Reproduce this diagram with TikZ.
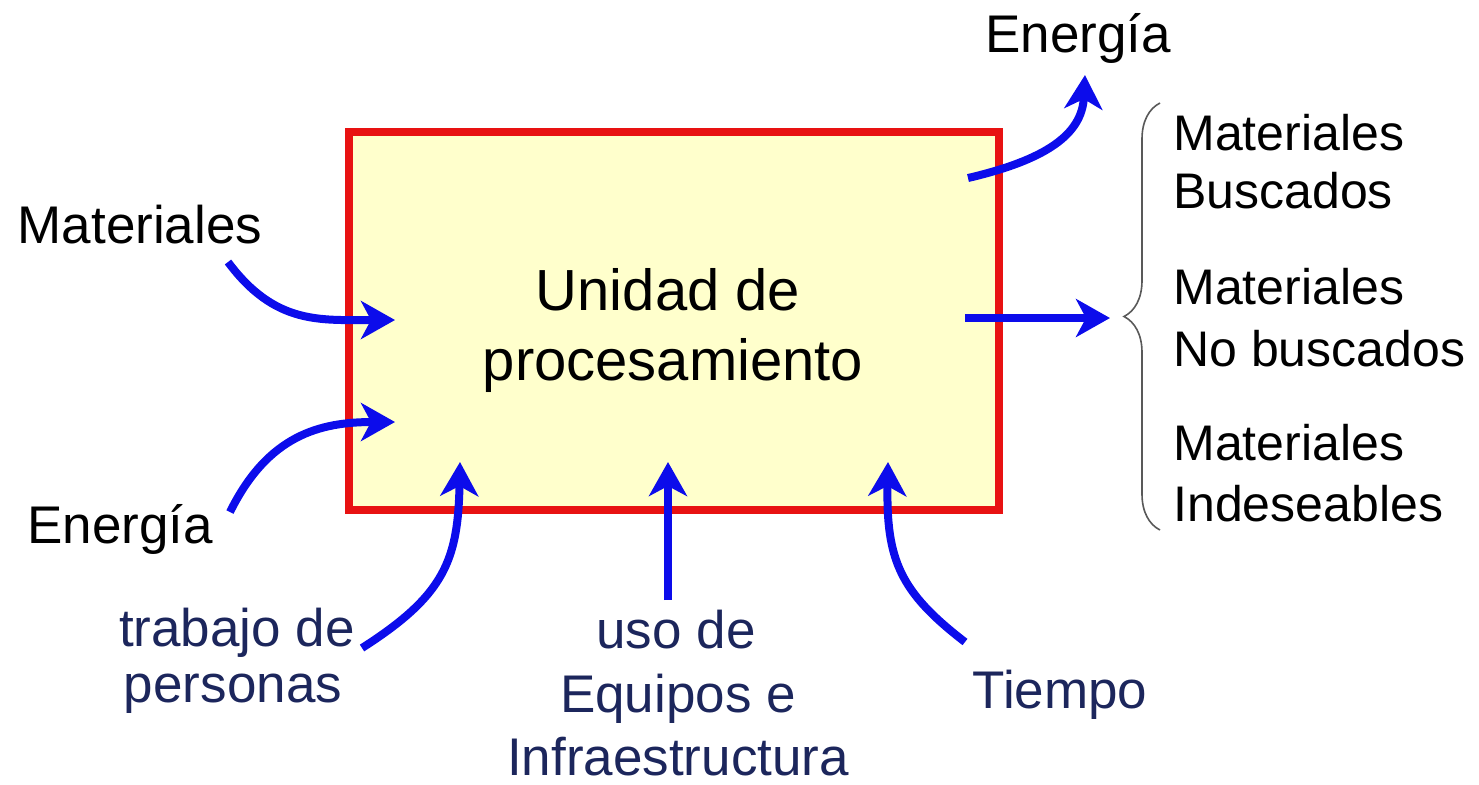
\documentclass[tikz,border=0pt]{standalone}
\usepackage{fontspec}
\setmainfont{Liberation Sans}
\usetikzlibrary{arrows.meta}
\usetikzlibrary{decorations.pathreplacing}

\definecolor{rojocaja}{RGB}{232,18,18}
\definecolor{fondocaja}{RGB}{255,255,204}
\definecolor{azulflecha}{RGB}{12,12,235}
\definecolor{azultexto}{RGB}{28,38,92}

\begin{document}
\begin{tikzpicture}[x=0.5pt,y=-0.5pt,
    flecha/.style={draw=azulflecha,line width=4pt,
        -{Stealth[length=17pt,width=19pt,inset=5pt]}},
    grande/.style={font=\fontsize{29}{35}\selectfont,inner sep=0pt},
    medio/.style={font=\fontsize{26.5}{31}\selectfont,inner sep=0pt},
    lista/.style={font=\fontsize{25}{30}\selectfont,inner sep=0pt,anchor=base west},
    abajo/.style={medio,text=azultexto,anchor=base}]
                    \useasboundingbox (0,0) rectangle (1479,784);

                    % caja central
                    \node[draw=rojocaja,fill=fondocaja,line width=4pt,
                        minimum width=325pt,minimum height=189pt] (unidad) at (674,321) {};
                    \node[grande,anchor=base] (uni1) at (668,310) {Unidad de};
                    \node[grande,anchor=base] (uni2) at (673,380) {procesamiento};

                    % entradas
                    \node[medio,anchor=base] (matIn) at (140,243) {Materiales};
                    \node[medio,anchor=base] (eneIn) at (120,543) {Energía};
                    \node[abajo] (trab1) at (237,646) {trabajo de};
                    \node[abajo] (trab2) at (233,702) {personas};
                    \node[abajo] (uso1) at (676,648) {uso de};
                    \node[abajo] (uso2) at (678,712) {Equipos e};
                    \node[abajo] (uso3) at (678,775) {Infraestructura};
                    \node[abajo] (tiempo) at (1060,708) {Tiempo};

                    % salidas
                    \node[medio,anchor=base] (eneOut) at (1078,52) {Energía};
                    \node[lista] (mb1) at (1173,150) {Materiales};
                    \node[lista] (mb2) at (1173,208) {Buscados};
                    \node[lista] (mn1) at (1173,304) {Materiales};
                    \node[lista] (mn2) at (1173,366) {No buscados};
                    \node[lista] (mi1) at (1173,460) {Materiales};
                    \node[lista] (mi2) at (1173,521) {Indeseables};

                    \coordinate (a1) at (228,262);   \coordinate (b1) at (395,320);
                    \coordinate (a2) at (230,512);   \coordinate (b2) at (395,422);
                    \coordinate (a3) at (362,648);   \coordinate (b3) at (460,462);
                    \coordinate (a4) at (668,600);   \coordinate (b4) at (668,462);
                    \coordinate (a5) at (965,642);   \coordinate (b5) at (888,462);
                    \coordinate (a6) at (968,178);   \coordinate (b6) at (1085,75);
                    \coordinate (a7) at (965,318);   \coordinate (b7) at (1110,318);

                    \draw[flecha] (a1) .. controls (275,325) and (320,320) .. (b1);
                    \draw[flecha] (a2) .. controls (268,435) and (320,422) .. (b2);
                    \draw[flecha] (a3) .. controls (445,595) and (458,560) .. (b3);
                    \draw[flecha] (a4) -- (b4);
                    \draw[flecha] (a5) .. controls (900,592) and (886,560) .. (b5);
                    \draw[flecha] (a6) .. controls (1045,160) and (1082,135) .. (b6);
                    \draw[flecha] (a7) -- (b7);

                    % llave
                    \draw[gray!70!black,line width=0.8pt,decorate,
                        decoration={brace,amplitude=18pt}] (1160,530) -- (1160,103);
                \end{tikzpicture}
\end{document}
